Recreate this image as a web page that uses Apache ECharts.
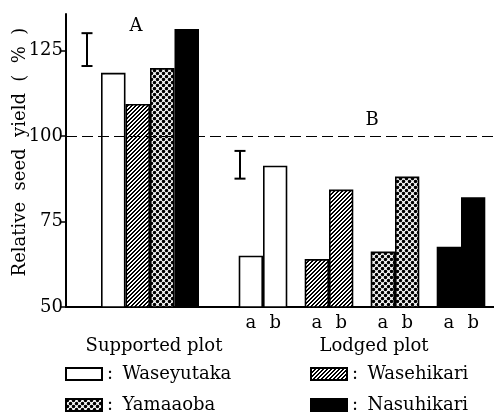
<!DOCTYPE html>
<html><head><meta charset="utf-8">
<script src="https://cdn.jsdelivr.net/npm/echarts@6/dist/echarts.min.js"></script>
<style>html,body{margin:0;padding:0;background:#fff}#c{width:494px;height:413px}</style>
</head><body><div id="c"></div>
<script>
// ---- data ----
const varieties = ['Waseyutaka', 'Wasehikari', 'Yamaaoba', 'Nasuhikari'];
const supportedYield = [118.4, 109.3, 119.8, 131.2];
const lodgedA = [65.0, 64.0, 66.2, 67.6];
const lodgedB = [91.3, 84.3, 88.1, 82.1];
const lsdSupported = [120.4, 130.0];
const lsdLodged = [87.5, 95.6];
const yTicks = [50, 75, 100, 125];
const yMin = 50, yMax = 135.6;
const pairLabels = ['a', 'b'];
const groupLabels = ['Supported plot', 'Lodged plot'];
const panelLabels = ['A', 'B'];
const yTitle = 'Relative  seed  yield  (  %  )';

// ---- styles ----
const FONT = 'DejaVu Serif';
function tile(size, draw) {
  const c = document.createElement('canvas');
  c.width = size; c.height = size;
  const g = c.getContext('2d');
  draw(g, size);
  return c;
}
const hatch = tile(4, (g, s) => {
  g.fillStyle = '#fff'; g.fillRect(0, 0, s, s);
  g.fillStyle = '#000';
  for (let x = 0; x < s; x++) for (let y = 0; y < s; y++) {
    const k = (x + y) % 4;
    if (k === 0 || k === 1) g.fillRect(x, y, 1, 1);
  }
});
const dots = tile(6, (g, s) => {
  g.fillStyle = '#fff'; g.fillRect(0, 0, s, s);
  g.fillStyle = '#000';
  const pts = [[1.5, 1.5], [4.5, 4.5], [-1.5, 4.5], [4.5, -1.5], [7.5, 1.5], [1.5, 7.5]];
  pts.forEach(p => { g.beginPath(); g.arc(p[0], p[1], 1.75, 0, Math.PI * 2); g.fill(); });
});
const fills = [
  '#ffffff',
  { image: hatch, repeat: 'repeat' },
  { image: dots, repeat: 'repeat' },
  '#000000'
];
const barBorder = { borderColor: '#000', borderWidth: 1.6 };

const TOP = 14, BOTTOM = 106;
const SUP_LSD_OFFSET = -63, LOD_LSD_OFFSET = -23;

function lsdRender(offset) {
  return function (params, api) {
    const lo = api.coord([api.value(0), api.value(1)]);
    const hi = api.coord([api.value(0), api.value(2)]);
    const x = lo[0] + offset, cap = 5.5;
    const st = { stroke: '#000', lineWidth: 2 };
    return { type: 'group', children: [
      { type: 'line', shape: { x1: x, y1: lo[1], x2: x, y2: hi[1] }, style: st },
      { type: 'line', shape: { x1: x - cap, y1: lo[1], x2: x + cap, y2: lo[1] }, style: st },
      { type: 'line', shape: { x1: x - cap, y1: hi[1], x2: x + cap, y2: hi[1] }, style: st }
    ]};
  };
}

const hiddenY = (gi) => ({ type: 'value', gridIndex: gi, min: yMin, max: yMax, show: false });

const series = [];
// frame series holding the 100% reference line
series.push({
  type: 'line', xAxisIndex: 0, yAxisIndex: 0, data: [], z: 1, silent: true,
  markLine: {
    silent: true, symbol: 'none', label: { show: false }, animation: false,
    lineStyle: { color: '#000', type: [11, 5], width: 1.2 },
    data: [{ yAxis: 100 }]
  }
});
// supported plot bars (one series per variety)
varieties.forEach((v, i) => {
  series.push({
    type: 'bar', name: v, xAxisIndex: 1, yAxisIndex: 1, z: 3,
    barGap: '0%', barCategoryGap: '0%',
    itemStyle: Object.assign({ color: fills[i] }, barBorder),
    data: [supportedYield[i]]
  });
});
series.push({
  type: 'custom', xAxisIndex: 1, yAxisIndex: 1, z: 4, silent: true,
  renderItem: lsdRender(SUP_LSD_OFFSET),
  data: [[0, lsdSupported[0], lsdSupported[1]]]
});
// lodged plot bars a / b
[lodgedA, lodgedB].forEach((arr, k) => {
  series.push({
    type: 'bar', name: 'lodged-' + pairLabels[k], xAxisIndex: 2, yAxisIndex: 2, z: 3,
    barWidth: 24.3, barGap: '0%',
    label: { show: true, position: 'bottom', distance: 7, formatter: pairLabels[k],
      fontFamily: FONT, fontSize: 18, color: '#000' },
    data: arr.map((val, i) => ({ value: val, itemStyle: Object.assign({ color: fills[i] }, barBorder) }))
  });
});
series.push({
  type: 'custom', xAxisIndex: 2, yAxisIndex: 2, z: 4, silent: true,
  renderItem: lsdRender(LOD_LSD_OFFSET),
  data: [[0, lsdLodged[0], lsdLodged[1]]]
});

const legendCommon = {
  orient: 'vertical', top: 364, height: 80, itemWidth: 36, itemHeight: 12, itemGap: 11,
  icon: 'rect', selectedMode: false, padding: 0,
  formatter: n => ': \u2009' + n,
  textStyle: { fontFamily: FONT, fontSize: 18, color: '#000', lineHeight: 20 }
};

const option = {
  backgroundColor: '#fff',
  animation: false,
  grid: [
    { left: 66, width: 428, top: TOP, bottom: BOTTOM },
    { left: 101, width: 98, top: TOP, bottom: BOTTOM },
    { left: 230, width: 276, top: TOP, bottom: BOTTOM }
  ],
  xAxis: [
    { type: 'value', gridIndex: 0, min: 0, max: 1,
      axisLine: { show: true, lineStyle: { color: '#000', width: 2 } },
      axisTick: { show: false }, axisLabel: { show: false }, splitLine: { show: false } },
    { type: 'category', gridIndex: 1, data: [groupLabels[0]], show: false },
    { type: 'category', gridIndex: 2, data: varieties, show: false }
  ],
  yAxis: [
    { type: 'value', gridIndex: 0, min: yMin, max: yMax, interval: 25,
      axisLine: { show: true, lineStyle: { color: '#000', width: 2 } },
      axisTick: { show: true, length: 5, customValues: yTicks, lineStyle: { color: '#000', width: 1.5 } },
      axisLabel: { customValues: yTicks, margin: 3, fontFamily: FONT, fontSize: 18, color: '#000' },
      splitLine: { show: false } },
    hiddenY(1), hiddenY(2)
  ],
  legend: [
    Object.assign({ left: 65, data: [varieties[0], varieties[2]] }, legendCommon),
    Object.assign({ left: 310, data: [varieties[1], varieties[3]] }, legendCommon)
  ],
  graphic: [
    { type: 'text', x: 136, y: 26, style: { text: panelLabels[0], font: '18px "' + FONT + '"', fill: '#000', align: 'center', verticalAlign: 'middle' } },
    { type: 'text', x: 372, y: 120, style: { text: panelLabels[1], font: '18px "' + FONT + '"', fill: '#000', align: 'center', verticalAlign: 'middle' } },
    { type: 'text', x: 154, y: 346, style: { text: groupLabels[0], font: '18px "' + FONT + '"', fill: '#000', align: 'center', verticalAlign: 'middle' } },
    { type: 'text', x: 374, y: 346, style: { text: groupLabels[1], font: '18px "' + FONT + '"', fill: '#000', align: 'center', verticalAlign: 'middle' } },
    { type: 'text', x: 20, y: 152, rotation: Math.PI / 2, style: { text: yTitle, font: '18px "' + FONT + '"', fill: '#000', align: 'center', verticalAlign: 'middle' } }
  ],
  series: series
};
const chart = echarts.init(document.getElementById('c'), null, { renderer: 'canvas' });
chart.setOption(option);
</script>
</body></html>
